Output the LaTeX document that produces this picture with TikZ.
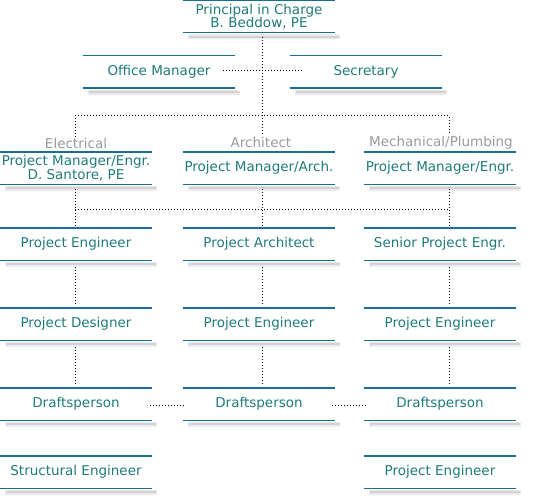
\documentclass[tikz,border=0pt]{standalone}
\usepackage{fontspec}
\setmainfont{DejaVu Sans}
\usepackage{tikz}
\usetikzlibrary{calc}
\definecolor{ocLine}{HTML}{1A6A9A}
\definecolor{ocText}{HTML}{1F7A7A}
\definecolor{ocGray}{HTML}{9A9A9A}
\definecolor{ocShade}{HTML}{D2D2D2}

\begin{document}
\begin{tikzpicture}[x=1pt, y=-1pt,
  post/.style={minimum width=152pt, minimum height=32pt, inner sep=0pt,
    text=ocText, align=center, font=\fontsize{13.5}{13.5}\selectfont},
  dept/.style={inner sep=1pt, text=ocGray, font=\fontsize{13.5}{13.5}\selectfont},
  link/.style={line width=1pt, dash pattern=on 1pt off 2pt, black}]
  \useasboundingbox (0,0) rectangle (537,497);

  \node[post] (principal) at (259,16.6) {Principal in Charge\\B. Beddow, PE};
  \node[post] (office) at (159,72) {Office Manager};
  \node[post] (secretary) at (366,72) {Secretary};

  \node[dept] (lblE) at (76,143) {Electrical};
  \node[dept] (lblA) at (261,142) {Architect};
  \node[dept] (lblM) at (441,143) {Mechanical/Plumbing};

  \node[post] (pmE) at (76,168) {Project Manager/Engr.\\D. Santore, PE};
  \node[post] (pmA) at (259,168) {Project Manager/Arch.};
  \node[post] (pmM) at (440,168) {Project Manager/Engr.};

  \node[post] (engE) at (76,244) {Project Engineer};
  \node[post] (archA) at (259,244) {Project Architect};
  \node[post] (seniorM) at (440,244) {Senior Project Engr.};

  \node[post] (designE) at (76,324) {Project Designer};
  \node[post] (engA) at (259,324) {Project Engineer};
  \node[post] (engM) at (440,324) {Project Engineer};

  \node[post] (draftE) at (76,404) {Draftsperson};
  \node[post] (draftA) at (259,404) {Draftsperson};
  \node[post] (draftM) at (440,404) {Draftsperson};

  \node[post] (structE) at (76,472) {Structural Engineer};
  \node[post] (engM2) at (440,472) {Project Engineer};

  \foreach \n in {principal,office,secretary,pmE,pmA,pmM,engE,archA,seniorM,
                  designE,engA,engM,draftE,draftA,draftM,structE,engM2} {
    \draw[ocShade!45, line width=5pt] ($(\n.south west)+(5,4)$) -- ($(\n.south east)+(5,4)$);
    \draw[ocShade, line width=2.2pt] ($(\n.south west)+(6,4)$) -- ($(\n.south east)+(4,4)$);
    \draw[ocLine, line width=1.4pt] (\n.north west) -- (\n.north east)
                                    (\n.south west) -- (\n.south east);
  }

  \coordinate (colE) at (75,0);
  \coordinate (colA) at (262,0);
  \coordinate (colM) at (449,0);
  \coordinate (bus1) at (262,116);
  \coordinate (bus2) at (262,209);

  \draw[link] ($(principal.south -| colA)+(0,4)$) -- (lblA.north -| colA);
  \draw[link] (lblE.north -| colE) |- (bus1) -| (lblM.north -| colM);
  \draw[link] ($(office.east)+(-12,-1)$) -- ($(secretary.west)+(12,-1)$);

  \draw[link] ($(pmE.south -| colE)+(0,5)$) -- (engE.north -| colE);
  \draw[link] ($(pmA.south -| colA)+(0,5)$) -- (archA.north -| colA);
  \draw[link] ($(pmM.south -| colM)+(0,5)$) -- (seniorM.north -| colM);
  \draw[link] (bus2 -| colE) -- (bus2 -| colM);

  \foreach \a/\b/\c in {engE/designE/colE, designE/draftE/colE,
                        archA/engA/colA, engA/draftA/colA,
                        seniorM/engM/colM, engM/draftM/colM} {
    \draw[link] ($(\a.south -| \c)+(0,7)$) -- ($(\b.north -| \c)+(0,-3)$);
  }

  \draw[link] ($(draftE.east)+(-2,1)$) -- ($(draftA.west)+(3,1)$);
  \draw[link] ($(draftA.east)+(-3,1)$) -- ($(draftM.west)+(4,1)$);
\end{tikzpicture}
\end{document}
